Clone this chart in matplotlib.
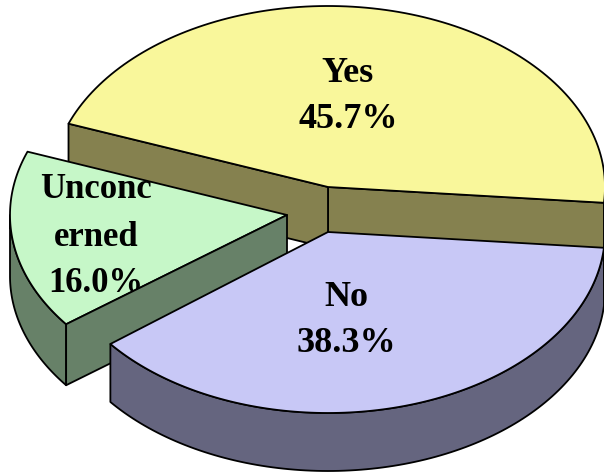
"""3D style pie chart drawn by hand from ellipse arcs."""

import matplotlib

matplotlib.use("Agg")
import matplotlib.pyplot as plt
import numpy as np
from matplotlib.patches import Polygon

# Data
categories = ["Yes", "No", "Unconcerned"]
shares = [45.7, 38.3, 16.0]
label_lines = [["Yes", "45.7%"], ["No", "38.3%"], ["Unconc", "erned", "16.0%"]]

# Colours: top surface, side wall
TOP_COLORS = ["#F9F79B", "#C8C8F6", "#C6F7C8"]
WALL_COLORS = ["#85814F", "#65657F", "#678168"]

# Layout in image pixels
RX, RY = 277, 181
DEPTHS = [61, 58, 61]
CENTERS = [(328, 187), (328, 232), (287, 215)]
LABEL_POS = [(348, [73, 120]), (346, [298, 344]), (96, [190, 237, 284])]
LABEL_SIZES = [26, 26, 25]
START_ANGLE = -5  # Yes starts here and runs counter-clockwise
NO_GAP = 1.1  # the exploded slice pushes the No edge round a little
LINE_W = 1.3


def arc(center, t0, t1, n=120):
    t = np.radians(np.linspace(t0, t1, n))
    return np.column_stack([center[0] + RX * np.cos(t), center[1] - RY * np.sin(t)])


def draw_poly(ax, pts, color, zorder):
    ax.add_patch(
        Polygon(pts, closed=True, facecolor=color, edgecolor="black",
                linewidth=LINE_W, joinstyle="round", zorder=zorder)
    )


def draw_radial_wall(ax, idx, t, zorder):
    center = np.array(CENTERS[idx], dtype=float)
    down = np.array([0, DEPTHS[idx]])
    edge = arc(center, t, t, 1)[0]
    draw_poly(ax, [center, edge, edge + down, center + down], WALL_COLORS[idx], zorder)


def draw_outer_wall(ax, idx, t0, t1, zorder):
    center = np.array(CENTERS[idx], dtype=float)
    rim = arc(center, t0, t1)
    draw_poly(ax, np.vstack([rim, (rim + [0, DEPTHS[idx]])[::-1]]), WALL_COLORS[idx], zorder)


def draw_top(ax, idx, t0, t1, zorder):
    center = np.array(CENTERS[idx], dtype=float)
    draw_poly(ax, np.vstack([center, arc(center, t0, t1)]), TOP_COLORS[idx], zorder)


fig = plt.figure(figsize=(6.04, 4.75), dpi=100)
ax = fig.add_axes([0, 0, 1, 1])
ax.set_xlim(0, 604)
ax.set_ylim(475, 0)
ax.axis("off")

sweeps = [s / sum(shares) * 360 for s in shares]
yes_end = START_ANGLE + sweeps[0]
unc_end = yes_end + sweeps[2]
no_end = unc_end + sweeps[1]

# Yes, at the back
draw_radial_wall(ax, 0, START_ANGLE, 1)
draw_radial_wall(ax, 0, yes_end, 1)
draw_top(ax, 0, START_ANGLE, yes_end, 1.5)

# Unconcerned, its wall sits over its label as in the original
draw_outer_wall(ax, 2, 180, unc_end, 2)
draw_top(ax, 2, yes_end, unc_end, 2.5)
draw_radial_wall(ax, 2, unc_end, 5)

# No, in front
draw_outer_wall(ax, 1, unc_end + NO_GAP, no_end, 6)
draw_top(ax, 1, unc_end + NO_GAP, no_end, 6.5)

for lines, (x, ys), size, z in zip(label_lines, LABEL_POS, LABEL_SIZES, [8, 8, 4]):
    for line, y in zip(lines, ys):
        ax.text(x, y, line, ha="center", va="center", family="Liberation Serif",
                fontweight="bold", fontsize=size, color="black", zorder=z)

fig.savefig("out.png", dpi=100)
